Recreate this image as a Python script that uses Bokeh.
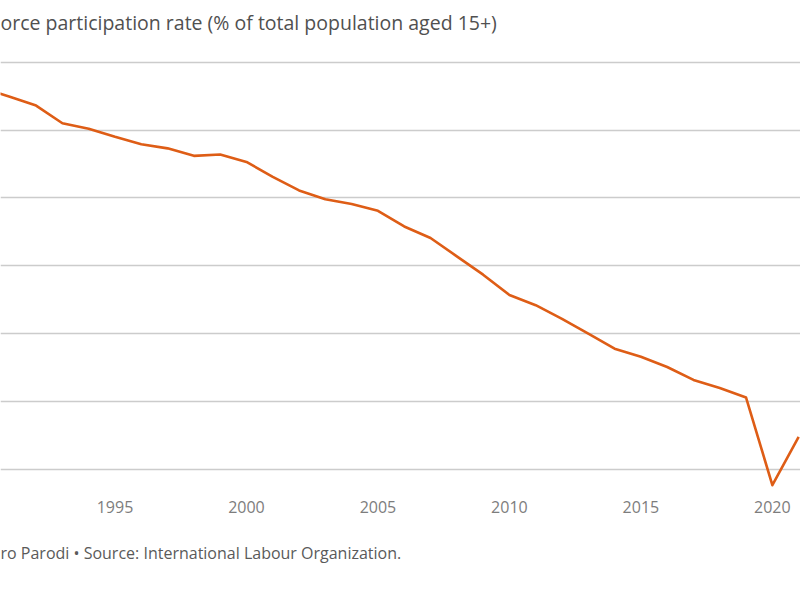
from bokeh.plotting import figure
from bokeh.models import FixedTicker, Range1d, Title
from bokeh.embed import file_html
from bokeh.resources import INLINE

years = list(range(1990, 2022))
rate = [65.61, 65.49, 65.36, 65.10, 65.02, 64.90, 64.79, 64.73, 64.62, 64.64,
        64.53, 64.31, 64.11, 63.98, 63.91, 63.81, 63.58, 63.41, 63.14, 62.87,
        62.57, 62.42, 62.22, 62.00, 61.78, 61.66, 61.51, 61.32, 61.20, 61.06,
        59.77, 60.48]
x_ticks = [1995, 2000, 2005, 2010, 2015, 2020]
y_grid = [60, 61, 62, 63, 64, 65, 66]

title_text = "orce participation rate (% of total population aged 15+)"
footer_text = "ro Parodi \u2022 Source: International Labour Organization."

FONT = "Open Sans"

p = figure(width=800, height=600, output_backend="svg", toolbar_location=None,
           x_range=Range1d(1990.646, 2021.07), y_range=Range1d(59.691, 66.304),
           min_border_left=0, min_border_right=0, min_border_top=40,
           min_border_bottom=110)
p.outline_line_color = None
p.background_fill_color = "white"
p.border_fill_color = "white"

p.line(years, rate, line_color="#de5d16", line_width=2.6, line_join="round")

p.yaxis.visible = False
p.xgrid.visible = False
p.ygrid.ticker = FixedTicker(ticks=y_grid)
p.ygrid.grid_line_color = "#cccccc"
p.ygrid.grid_line_width = 1.5

xa = p.xaxis[0]
xa.ticker = FixedTicker(ticks=x_ticks)
xa.axis_line_color = None
xa.major_tick_line_color = None
xa.minor_tick_line_color = None
xa.major_label_text_font = FONT
xa.major_label_text_font_size = "16px"
xa.major_label_text_color = "#7d7d7d"
xa.major_label_standoff = 4

p.add_layout(Title(text=title_text, align="left", offset=0, standoff=12,
                   text_font=FONT, text_font_size="19.5px", text_color="#505050",
                   text_font_style="normal"), "above")
p.add_layout(Title(text=footer_text, align="left", offset=0, standoff=48,
                   text_font=FONT, text_font_size="16px", text_color="#5a5a5a",
                   text_font_style="normal"), "below")

open("out.html", "w").write(file_html(p, INLINE))
